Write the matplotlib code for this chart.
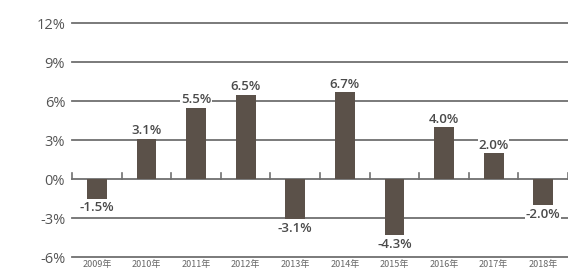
import matplotlib.pyplot as plt

years = ['2009年', '2010年', '2011年', '2012年', '2013年',
         '2014年', '2015年', '2016年', '2017年', '2018年']
growth = [-1.5, 3.1, 5.5, 6.5, -3.1, 6.7, -4.3, 4.0, 2.0, -2.0]
yticks = [-6, -3, 0, 3, 6, 9, 12]

fig = plt.figure(figsize=(5.68, 2.74), dpi=100)
ax = fig.add_axes([0.127, 0.062, 0.873, 0.854])

x = list(range(len(years)))
ax.bar(x, growth, width=0.4, color='#5b5149', zorder=2)

ax.set_xlim(-0.5, 9.5)
ax.set_ylim(-6, 12)

# gridlines
for t in yticks:
    ax.axhline(t, color='#707070', lw=1.3, zorder=1, clip_on=False)

# small ticks on the zero line between categories
for i in range(len(years) + 1):
    ax.plot([i - 0.5, i - 0.5], [0, 0.45], color='#707070', lw=1.2,
            zorder=1, clip_on=False)

lab_font = ['Open Sans', 'DejaVu Sans']
for xi, v in zip(x, growth):
    off, va = ((0, 1), 'bottom') if v >= 0 else ((0, -2), 'top')
    ax.annotate(f'{v:.1f}%', (xi, v), xytext=off, textcoords='offset points',
                ha='center', va=va, fontsize=9.5, fontweight='semibold',
                color='#4a4a4a', family=lab_font, zorder=3,
                bbox=dict(boxstyle='square,pad=0.05', fc='white', ec='none'))

ax.set_yticks(yticks)
ax.set_yticklabels([f'{t}%' for t in yticks], fontsize=10.5, color='#555555',
                   family=lab_font)
ax.set_xticks(x)
ax.set_xticklabels(years, fontsize=6.5, color='#666666',
                   family=['Noto Sans CJK SC', 'DejaVu Sans'])
ax.tick_params(axis='both', length=0)
ax.tick_params(axis='y', pad=5)
ax.tick_params(axis='x', pad=2)
for s in ax.spines.values():
    s.set_visible(False)

fig.savefig('out.png', dpi=100)
